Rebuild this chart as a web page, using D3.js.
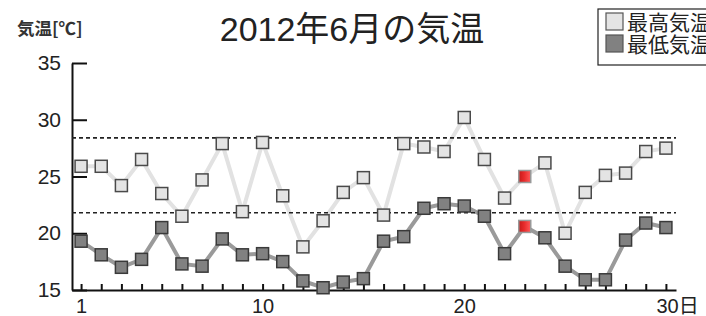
<!DOCTYPE html>
<html>
  <head>
    <meta charset="utf-8">
    <script src="https://d3js.org/d3.v7.min.js"></script>
    <style>
      body { margin: 0; background: #fff; }
      text { font-family: "Liberation Sans", "Noto Sans CJK JP", sans-serif; fill: #222; }
      .cjk { font-family: "Noto Sans CJK JP", sans-serif; }
    </style>
  </head>
<body>
  <script type="text/javascript">

  // data (June 2012, daily max / min)
  var days = d3.range(1, 31);
  var maxTemp = [25.9, 25.9, 24.2, 26.5, 23.5, 21.5, 24.7, 27.9, 21.9, 28.0,
                 23.3, 18.8, 21.1, 23.6, 24.9, 21.6, 27.9, 27.6, 27.2, 30.2,
                 26.5, 23.1, 25.0, 26.2, 20.0, 23.6, 25.1, 25.3, 27.2, 27.5];
  var minTemp = [19.3, 18.1, 17.0, 17.7, 20.5, 17.3, 17.1, 19.5, 18.1, 18.2,
                 17.5, 15.8, 15.2, 15.7, 16.0, 19.3, 19.7, 22.2, 22.6, 22.4,
                 21.5, 18.2, 20.6, 19.6, 17.1, 15.9, 15.9, 19.4, 20.9, 20.5];
  var highlightDays = [23];
  var refLines = [28.4, 21.8];
  var yTicks = [15, 20, 25, 30, 35];
  var xLabelTicks = [1, 10, 20, 30];
  var seriesNames = ["最高気温", "最低気温"];

  var width = 706, height = 316;

  var svg = d3.select("body")
    .append("svg")
      .attr("width", width)
      .attr("height", height);

  var defs = svg.append("defs");
  var grad = defs.append("linearGradient").attr("id", "redfill");
  grad.append("stop").attr("offset", "0%").attr("stop-color", "#c41a1a");
  grad.append("stop").attr("offset", "45%").attr("stop-color", "#e82a2a");
  grad.append("stop").attr("offset", "100%").attr("stop-color", "#ff5a5a");

  var x = d3.scaleLinear().domain([0.55, 30.5]).range([72, 676]);
  var y = d3.scaleLinear().domain([15, 35]).range([290, 63]);

  // title and axis label
  svg.append("text")
    .attr("x", 352).attr("y", 41)
    .attr("text-anchor", "middle")
    .style("font-size", "34px")
    .text("2012年6月の気温");

  svg.append("text")
    .attr("class", "cjk")
    .attr("x", 17).attr("y", 35)
    .style("font-size", "17.5px")
    .style("font-weight", "bold")
    .style("fill", "#333")
    .text("気温[℃]");

  // y axis
  var yAxis = svg.append("g")
    .attr("transform", "translate(72,0)")
    .call(d3.axisLeft(y).tickValues(yTicks).tickSize(-15).tickSizeOuter(0).tickPadding(11));
  yAxis.select(".domain").attr("stroke", "#111").attr("stroke-width", 2);
  yAxis.selectAll(".tick line").attr("stroke", "#111").attr("stroke-width", 2);
  yAxis.selectAll(".tick text")
    .style("font-family", "'Liberation Sans Narrow', 'Liberation Sans', sans-serif")
    .style("font-size", "21px").style("fill", "#222");

  // x axis: a tick for every day, labels on some
  var xAxis = svg.append("g")
    .attr("transform", "translate(0,290)")
    .call(d3.axisBottom(x).tickValues(days).tickSize(-6).tickSizeOuter(0).tickFormat(""));
  xAxis.select(".domain").attr("stroke", "#111").attr("stroke-width", 2);
  xAxis.selectAll(".tick line").attr("stroke", "#111").attr("stroke-width", 2);

  var xLab = svg.append("g")
    .attr("transform", "translate(0,290)")
    .call(d3.axisBottom(x).tickValues(xLabelTicks).tickSize(0).tickPadding(9)
      .tickFormat(function(d){ return d === 30 ? "30日" : d; }));
  xLab.select(".domain").remove();
  xLab.selectAll(".tick text")
    .style("font-family", "'Liberation Sans Narrow', 'Liberation Sans', 'Noto Sans CJK JP', sans-serif")
    .style("font-size", "20px").style("fill", "#222")
    .attr("text-anchor", function(d){ return d === 30 ? "start" : "middle"; })
    .attr("dx", function(d){ return d === 30 ? "-0.5em" : 0; });

  // lines
  var line = d3.line()
    .x(function(d){ return x(d.day); })
    .y(function(d){ return y(d.t); });

  var maxData = days.map(function(d, i){ return {day: d, t: maxTemp[i]}; });
  var minData = days.map(function(d, i){ return {day: d, t: minTemp[i]}; });

  svg.append("path").datum(maxData)
    .attr("d", line).attr("fill", "none")
    .attr("stroke", "#e2e2e2").attr("stroke-width", 4);
  svg.append("path").datum(minData)
    .attr("d", line).attr("fill", "none")
    .attr("stroke", "#9a9a9a").attr("stroke-width", 4);

  // reference dotted lines
  svg.selectAll(".ref").data(refLines).enter()
    .append("line")
      .attr("x1", x.range()[0]).attr("x2", x.range()[1])
      .attr("y1", function(d){ return y(d); })
      .attr("y2", function(d){ return y(d); })
      .attr("stroke", "#222").attr("stroke-width", 1.6)
      .attr("stroke-dasharray", "4,3");

  // markers
  var s = 12;
  function markers(data, fill, stroke) {
    svg.append("g").selectAll("rect").data(data).enter()
      .append("rect")
        .attr("x", function(d){ return x(d.day) - s / 2; })
        .attr("y", function(d){ return y(d.t) - s / 2; })
        .attr("width", s).attr("height", s)
        .attr("fill", function(d){ return highlightDays.indexOf(d.day) >= 0 ? "url(#redfill)" : fill; })
        .attr("stroke", function(d){ return highlightDays.indexOf(d.day) >= 0 ? "#999" : stroke; })
        .attr("stroke-width", 1.5);
  }
  markers(maxData, "#e4e4e4", "#4a4a4a");
  markers(minData, "#818181", "#3a3a3a");

  // legend
  var legend = svg.append("g");
  legend.append("rect")
    .attr("x", 598).attr("y", 9).attr("width", 130).attr("height", 56)
    .attr("fill", "#fff").attr("stroke", "#222").attr("stroke-width", 1.2);
  var legFills = ["#e4e4e4", "#818181"];
  var legStrokes = ["#555", "#555"];
  seriesNames.forEach(function(name, i){
    legend.append("rect")
      .attr("x", 606).attr("y", 13 + i * 22).attr("width", 17).attr("height", 17)
      .attr("fill", legFills[i]).attr("stroke", legStrokes[i]).attr("stroke-width", 1.2);
    legend.append("text")
      .attr("class", "cjk")
      .attr("x", 627).attr("y", 30 + i * 22)
      .style("font-size", "21px").style("fill", "#222")
      .text(name);
  });

  </script>
</body>
</html>
